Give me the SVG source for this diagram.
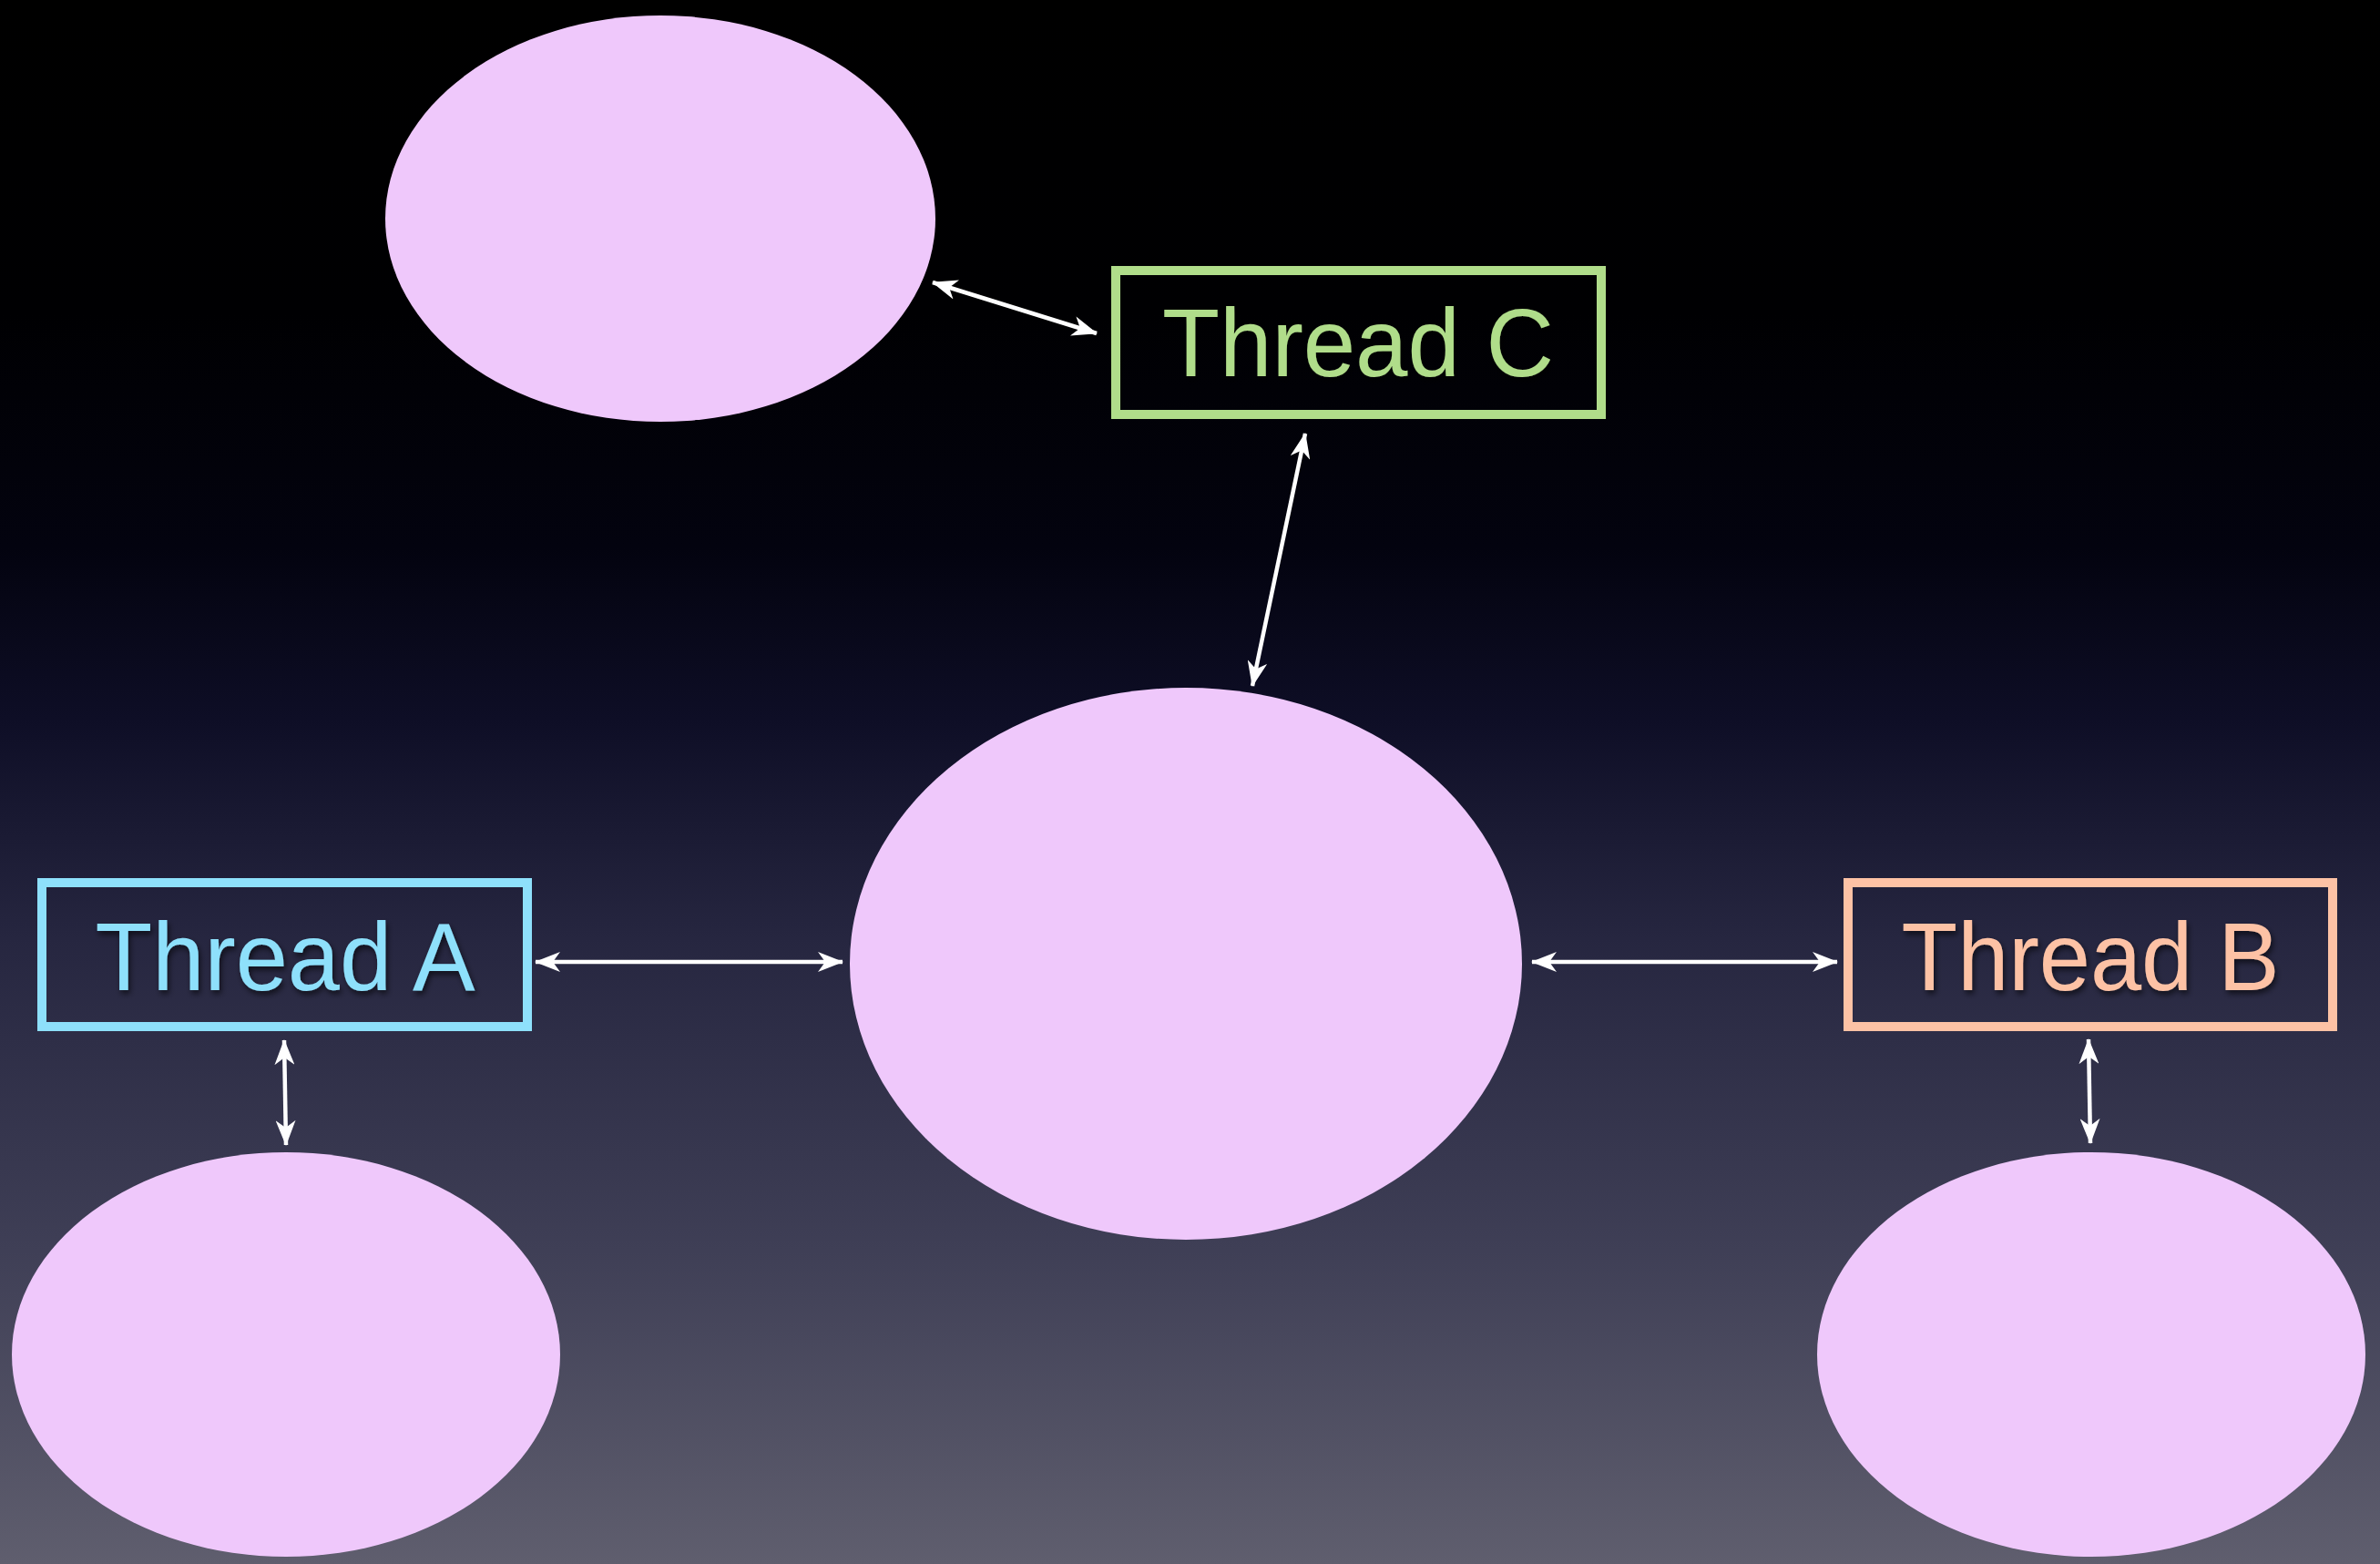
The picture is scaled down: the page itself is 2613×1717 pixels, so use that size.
<svg xmlns="http://www.w3.org/2000/svg" width="2613" height="1717" viewBox="0 0 2613 1717">
<defs>
<linearGradient id="bg" x1="0" y1="0" x2="0" y2="1">
<stop offset="0" stop-color="#000000"/>
<stop offset="0.2" stop-color="#000002"/>
<stop offset="0.35" stop-color="#03030f"/>
<stop offset="0.46" stop-color="#0e0e26"/>
<stop offset="0.6" stop-color="#262640"/>
<stop offset="0.8" stop-color="#3f3f56"/>
<stop offset="1" stop-color="#5f5e6e"/>
</linearGradient>
<marker id="ah" viewBox="0 0 28 22" markerWidth="28" markerHeight="22" refX="27" refY="11" orient="auto-start-reverse" markerUnits="userSpaceOnUse">
<path d="M0,0 L28,11 L0,22 L8,11 z" fill="#ffffff"/>
</marker>
<filter id="sh" x="-10%" y="-10%" width="120%" height="130%">
<feDropShadow dx="2" dy="4" stdDeviation="3" flood-color="#000000" flood-opacity="0.6"/>
</filter>
</defs>
<style>
.blob{fill:#efc8fb;}
.box{fill:none;stroke-width:10;}
.lbl{font-family:"Liberation Sans",Arial,sans-serif;font-size:106px;text-anchor:middle;}
.conn{stroke:#ffffff;stroke-width:4.5;fill:none;marker-start:url(#ah);marker-end:url(#ah);}
</style>
<rect x="0" y="0" width="2613" height="1717" fill="url(#bg)"/>
<g id="ellipse-top"><ellipse class="blob" cx="725" cy="240" rx="302" ry="223"/></g>
<g id="ellipse-center"><ellipse class="blob" cx="1302" cy="1058" rx="369" ry="303"/></g>
<g id="ellipse-bottom-left"><ellipse class="blob" cx="314" cy="1487" rx="301" ry="222"/></g>
<g id="ellipse-bottom-right"><ellipse class="blob" cx="2296" cy="1487" rx="301" ry="222"/></g>
<g id="thread-c">
<rect class="box" x="1225" y="297" width="533" height="158" stroke="#b0dd8a"/>
<text class="lbl" x="1491" y="413" fill="#b0dd8a" filter="url(#sh)" textLength="430" lengthAdjust="spacingAndGlyphs">Thread C</text>
</g>
<g id="thread-a">
<rect class="box" x="46" y="969" width="533" height="158" stroke="#8ee0fb"/>
<text class="lbl" x="313" y="1087" fill="#8ee0fb" filter="url(#sh)" textLength="417" lengthAdjust="spacingAndGlyphs">Thread A</text>
</g>
<g id="thread-b">
<rect class="box" x="2029" y="969" width="532" height="158" stroke="#fdc2a5"/>
<text class="lbl" x="2295" y="1087" fill="#fdc2a5" filter="url(#sh)" textLength="415" lengthAdjust="spacingAndGlyphs">Thread B</text>
</g>
<g id="connectors">
<line class="conn" x1="1024" y1="310" x2="1204" y2="366"/>
<line class="conn" x1="1433" y1="476" x2="1375" y2="753"/>
<line class="conn" x1="588" y1="1056" x2="925" y2="1056"/>
<line class="conn" x1="1682" y1="1056" x2="2017" y2="1056"/>
<line class="conn" x1="312" y1="1142" x2="314" y2="1257"/>
<line class="conn" x1="2293" y1="1141" x2="2295" y2="1255"/>
</g>
</svg>
